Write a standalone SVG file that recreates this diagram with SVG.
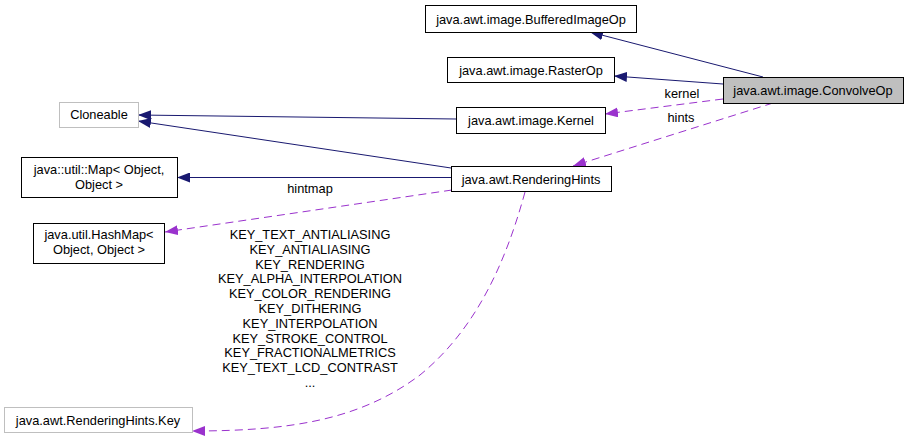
<svg xmlns="http://www.w3.org/2000/svg" width="908" height="439" viewBox="0 0 908 439">
<style>
  text { font-family: "Liberation Sans", Arial, sans-serif; font-size: 12.8px; fill: #000; text-anchor: middle; }
  .box { fill: #fff; stroke: #000; stroke-width: 1; }
  .ext { fill: #fff; stroke: #bfbfbf; stroke-width: 1; }
  .root { fill: #bfbfbf; stroke: #000; stroke-width: 1; }
  .inh { fill: none; stroke: #191970; stroke-width: 1; marker-end: url(#aInh); }
  .use { fill: none; stroke: #9a32cd; stroke-width: 1; stroke-dasharray: 8,5; marker-end: url(#aUse); }
</style>
<defs>
  <marker id="aInh" markerUnits="userSpaceOnUse" markerWidth="13" markerHeight="10" refX="13" refY="5" orient="auto">
    <path d="M0,0 L13,5 L0,10 z" fill="#191970"/>
  </marker>
  <marker id="aUse" markerUnits="userSpaceOnUse" markerWidth="13" markerHeight="10" refX="13" refY="5" orient="auto">
    <path d="M0,0 L13,5 L0,10 z" fill="#9a32cd"/>
  </marker>
</defs>
<rect width="908" height="439" fill="#fff"/>
<g id="connectors">
  <path class="inh" d="M763,77 L590,32"/>
  <path class="inh" d="M723,84 L614,76"/>
  <path class="inh" d="M456,119 L138,115"/>
  <path class="inh" d="M451,168 L138,121"/>
  <path class="inh" d="M451,177.5 L177,177.5"/>
  <path class="use" d="M723,99 L605,114"/>
  <path class="use" d="M773,103 L573,166"/>
  <path class="use" d="M452,190 L165,232"/>
  <path class="use" d="M525,192 C505,265 475,330 420,375 C360,420 290,431 192,431"/>
  <text x="682" y="98">kernel</text>
  <text x="681" y="122">hints</text>
  <text x="310" y="193">hintmap</text>
  <text x="310" y="239">KEY_TEXT_ANTIALIASING</text>
  <text x="310" y="253.8">KEY_ANTIALIASING</text>
  <text x="310" y="268.6">KEY_RENDERING</text>
  <text x="310" y="283.4">KEY_ALPHA_INTERPOLATION</text>
  <text x="310" y="298.2">KEY_COLOR_RENDERING</text>
  <text x="310" y="313">KEY_DITHERING</text>
  <text x="310" y="327.8">KEY_INTERPOLATION</text>
  <text x="310" y="342.6">KEY_STROKE_CONTROL</text>
  <text x="310" y="357.4">KEY_FRACTIONALMETRICS</text>
  <text x="310" y="372.2">KEY_TEXT_LCD_CONTRAST</text>
  <text x="310" y="387">...</text>
</g>
<g id="BufferedImageOp">
  <rect class="box" x="425.5" y="5.5" width="211" height="27"/>
  <text x="531" y="23.5">java.awt.image.BufferedImageOp</text>
</g>
<g id="RasterOp">
  <rect class="box" x="447.5" y="57.5" width="167" height="25"/>
  <text x="531" y="74.5">java.awt.image.RasterOp</text>
</g>
<g id="ConvolveOp">
  <rect class="root" x="723.5" y="77.5" width="180" height="26"/>
  <text x="813" y="95">java.awt.image.ConvolveOp</text>
</g>
<g id="Kernel">
  <rect class="box" x="456.5" y="107.5" width="149" height="26"/>
  <text x="531" y="125">java.awt.image.Kernel</text>
</g>
<g id="RenderingHints">
  <rect class="box" x="451.5" y="166.5" width="160" height="25"/>
  <text x="531" y="183.5">java.awt.RenderingHints</text>
</g>
<g id="Cloneable">
  <rect class="ext" x="59.5" y="102.5" width="79" height="25"/>
  <text x="99" y="119">Cloneable</text>
</g>
<g id="Map">
  <rect class="box" x="21.5" y="157.5" width="156" height="40"/>
  <text x="99" y="174">java::util::Map&lt; Object,</text>
  <text x="99" y="188.5">Object &gt;</text>
</g>
<g id="HashMap">
  <rect class="box" x="33.5" y="223.5" width="131" height="40"/>
  <text x="99" y="239">java.util.HashMap&lt;</text>
  <text x="99" y="253.5">Object, Object &gt;</text>
</g>
<g id="RenderingHintsKey">
  <rect class="ext" x="4.5" y="407.5" width="188" height="25"/>
  <text x="98" y="424.5">java.awt.RenderingHints.Key</text>
</g>
</svg>
